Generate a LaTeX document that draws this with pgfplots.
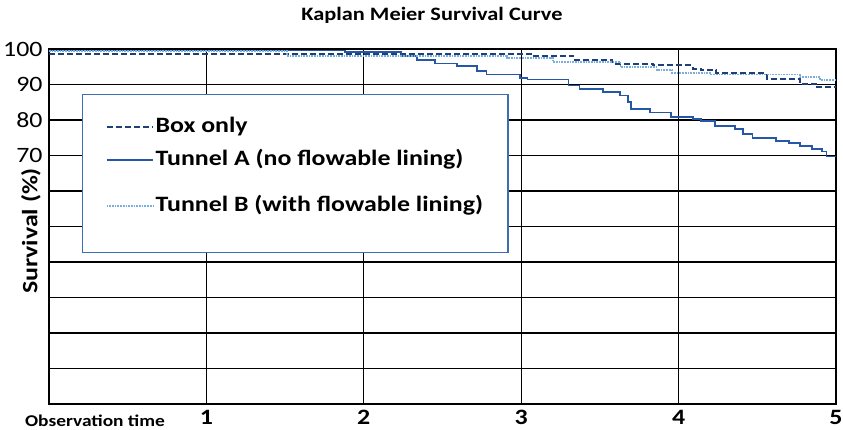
\documentclass[border=0pt]{standalone}
\usepackage{fontspec}
\setmainfont{Carlito}[FakeStretch=1.18]
\usepackage{pgfplots}
\pgfplotsset{compat=1.18}
\definecolor{boxc}{HTML}{1F3F78}
\definecolor{tuna}{HTML}{2458A6}
\definecolor{tunb}{HTML}{7AAEE0}
\definecolor{legb}{HTML}{3A6FB0}
\pgfplotsset{
  imgA/.style={legend image code/.code={\draw[##1] (0bp,0bp) -- (46bp,0bp); \path (0bp,-24.5bp);}},
  imgB/.style={legend image code/.code={\draw[##1] (0bp,0bp) -- (46bp,0bp); \path (0bp,-25.5bp);}},
}
\begin{document}
\begin{tikzpicture}
\useasboundingbox (0,0) rectangle (843bp,430bp);
\begin{axis}[
 at={(49bp,26bp)}, anchor=south west, scale only axis, width=787bp, height=355bp,
 xmin=0, xmax=5, ymin=0, ymax=100,
 xtick={1,2,3,4,5}, xticklabels={1,2,3,4,5},
 ytick={0,10,...,100}, yticklabels={,,,,,,,70,80,90,100},
 major tick length=0pt,
 grid=major, major grid style={black, line width=1.2bp},
 axis line style={black, line width=1.4bp},
 xticklabel style={font=\bfseries\fontsize{22}{22}\selectfont, inner sep=1bp, yshift=-5bp},
 yticklabel style={font=\fontsize{22}{22}\selectfont, xshift=-3bp},
 legend style={at={(0.042,0.873)}, anchor=north west, draw=legb, line width=1.3bp,
   inner xsep=23bp, inner ysep=20bp, font=\bfseries\fontsize{22}{22}\selectfont,
   row sep=8bp, nodes={inner sep=2bp, text height=16bp, text depth=5bp}},
 legend cell align=left,
 legend image code/.code={\draw[#1] (0bp,0bp) -- (46bp,0bp);},
]
\addplot[boxc, dash pattern=on 6bp off 3bp, line width=2bp, const plot] coordinates {
(0,98.7) (3.06,98.0) (3.33,96.9) (3.58,95.9) (3.84,95.4) (4.09,94.5) (4.14,94.0) (4.24,93.1) (4.56,91.6) (4.77,90.2) (4.87,89.2) (5,89.2)};
\addlegendentry{Box only}
\addplot[tuna, line width=1.8bp, const plot, imgA] coordinates {
(0,99.6) (1.88,99.2) (2.24,98.0) (2.34,96.9) (2.45,95.9) (2.59,95.2) (2.72,93.8) (2.78,92.8) (2.99,91.9) (3.04,91.4) (3.30,89.7) (3.37,88.8) (3.52,87.8) (3.63,86.9) (3.68,85.0) (3.70,83.1) (3.82,82.1) (3.95,80.9) (4.09,80.2) (4.14,79.7) (4.23,78.3) (4.36,77.4) (4.41,76.1) (4.47,74.9) (4.62,74.0) (4.70,73.5) (4.77,72.6) (4.85,71.9) (4.91,71.1) (4.94,69.7) (5.0,69.7)};
\addlegendentry{Tunnel A (no flowable lining)}
\addplot[tunb, line width=1.7bp, densely dotted, const plot, imgB] coordinates {
(0,99.4) (1.51,98.1) (2.91,97.4) (3.2,96.4) (3.63,94.9) (3.86,94.0) (3.96,93.2) (4.2,92.8) (4.77,92.1) (4.9,91.3) (5,91.3)};
\addlegendentry{Tunnel B (with flowable lining)}
\end{axis}
\node[font=\bfseries\fontsize{19}{19}\selectfont] at (432bp,415bp) {Kaplan Meier Survival Curve};
\node[font=\bfseries\fontsize{22}{22}\selectfont, rotate=90] at (31bp,199bp) {Survival (\%)};
\node[font=\bfseries\fontsize{16.5}{16.5}\selectfont] at (95bp,9bp) {Observation time};
\end{tikzpicture}
\end{document}
